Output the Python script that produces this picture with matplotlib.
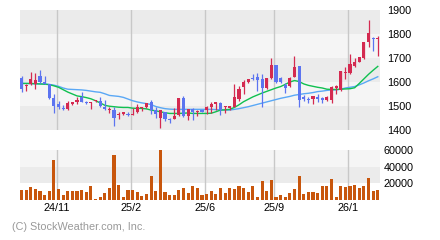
import numpy as np
from matplotlib import pyplot as plt

# weekly candles
opens = [1617, 1583, 1592, 1592, 1625, 1600, 1592, 1535, 1508, 1493,
         1488, 1510, 1515, 1539, 1515, 1511, 1520, 1521, 1497, 1483,
         1483, 1464, 1465, 1467, 1464, 1475, 1490, 1496, 1517, 1483,
         1451, 1476, 1444, 1446, 1462, 1533, 1460, 1487, 1474, 1482,
         1483, 1497, 1508, 1511, 1496, 1492, 1497, 1528, 1581, 1599,
         1617, 1622, 1612, 1574, 1615, 1671, 1615, 1587, 1585, 1622,
         1667, 1536, 1528, 1528, 1537, 1535, 1525, 1525, 1574, 1567,
         1636, 1636, 1668, 1685, 1699, 1768, 1782, 1778]
highs = [1625, 1593, 1643, 1637, 1650, 1625, 1592, 1550, 1521, 1504,
         1521, 1516, 1537, 1558, 1519, 1515, 1525, 1537, 1525, 1497,
         1497, 1475, 1475, 1474, 1490, 1508, 1497, 1514, 1525, 1497,
         1483, 1476, 1449, 1493, 1533, 1542, 1487, 1492, 1483, 1482,
         1500, 1517, 1517, 1517, 1500, 1500, 1593, 1585, 1608, 1614,
         1635, 1639, 1633, 1615, 1699, 1671, 1622, 1597, 1619, 1708,
         1667, 1546, 1539, 1542, 1550, 1539, 1542, 1583, 1587, 1646,
         1662, 1715, 1699, 1703, 1768, 1858, 1786, 1792]
lows = [1560, 1564, 1587, 1569, 1594, 1590, 1529, 1472, 1489, 1483,
        1483, 1504, 1508, 1515, 1510, 1489, 1518, 1497, 1483, 1469,
        1418, 1446, 1462, 1460, 1464, 1472, 1481, 1493, 1467, 1449,
        1410, 1439, 1431, 1444, 1458, 1456, 1442, 1442, 1460, 1474,
        1465, 1469, 1483, 1462, 1472, 1483, 1494, 1520, 1549, 1596,
        1608, 1562, 1497, 1569, 1612, 1594, 1594, 1553, 1581, 1619,
        1497, 1521, 1511, 1508, 1518, 1514, 1521, 1511, 1550, 1564,
        1614, 1633, 1661, 1682, 1696, 1744, 1731, 1710]
closes = [1572, 1586, 1612, 1608, 1600, 1590, 1532, 1500, 1494, 1488,
          1512, 1515, 1524, 1518, 1512, 1515, 1524, 1500, 1486, 1489,
          1451, 1468, 1475, 1464, 1468, 1497, 1494, 1511, 1483, 1467,
          1483, 1444, 1441, 1458, 1533, 1458, 1487, 1476, 1478, 1474,
          1496, 1508, 1517, 1483, 1500, 1500, 1539, 1572, 1601, 1612,
          1613, 1608, 1574, 1615, 1671, 1599, 1601, 1574, 1615, 1664,
          1525, 1528, 1525, 1542, 1528, 1525, 1539, 1578, 1585, 1646,
          1640, 1675, 1685, 1703, 1768, 1803, 1778, 1782]
volumes = [12000, 12000, 15600, 13200, 10800, 6000, 10800, 48000, 13200, 6000,
           10800, 10800, 10800, 12000, 9600, 16800, 1200, 3600, 8400, 14400,
           54000, 18000, 3600, 12000, 12000, 9600, 4800, 7200, 28800, 10800,
           60000, 9600, 6000, 6000, 12000, 14400, 8400, 16800, 14400, 6000,
           7200, 10800, 7200, 14400, 8400, 14400, 13200, 16800, 14400, 9600,
           16800, 3600, 22800, 10800, 24000, 3600, 6000, 3600, 8400, 13200,
           28800, 7200, 9600, 9600, 8400, 16800, 16800, 25200, 3600, 16800,
           15600, 16800, 18000, 14400, 16800, 26400, 10800, 12000]
ma_short = [1594, 1594, 1594, 1593, 1592, 1591, 1589, 1584, 1578, 1568,
            1558, 1550, 1542, 1539, 1535, 1530, 1522, 1513, 1503, 1499,
            1497, 1495, 1494, 1494, 1491, 1490, 1490, 1488, 1483, 1480,
            1476, 1472, 1469, 1469, 1469, 1470, 1471, 1469, 1469, 1469,
            1469, 1470, 1476, 1483, 1484, 1486, 1494, 1505, 1518, 1528,
            1538, 1546, 1554, 1561, 1568, 1575, 1581, 1590, 1600, 1606,
            1602, 1592, 1586, 1582, 1578, 1575, 1570, 1569, 1569, 1570,
            1571, 1572, 1576, 1594, 1613, 1632, 1649, 1665]
ma_long = [1594, 1594, 1593, 1592, 1592, 1591, 1590, 1587, 1582, 1575,
           1570, 1569, 1568, 1567, 1565, 1562, 1559, 1557, 1551, 1544,
           1542, 1540, 1536, 1529, 1522, 1517, 1513, 1510, 1506, 1498,
           1493, 1489, 1487, 1486, 1486, 1486, 1486, 1486, 1486, 1486,
           1486, 1486, 1485, 1484, 1483, 1483, 1486, 1489, 1493, 1497,
           1502, 1507, 1512, 1517, 1522, 1527, 1532, 1536, 1540, 1545,
           1548, 1551, 1553, 1556, 1560, 1562, 1565, 1567, 1567, 1570,
           1575, 1578, 1581, 1588, 1596, 1605, 1613, 1622]
price_ticks = [1400, 1500, 1600, 1700, 1800, 1900]
vol_ticks = [20000, 40000, 60000]
month_pos = [7.67, 23.67, 39.67, 54.67, 70.67]
month_labels = ['24/11', '25/2', '25/6', '25/9', '26/1']

UP = '#d42a50'
DOWN = '#5c74f0'
GRID = '#c8c8c8'

plt.rcParams['font.family'] = ['Liberation Sans', 'DejaVu Sans']

fig = plt.figure(figsize=(4.4, 2.4), dpi=100)
ax = fig.add_axes([20 / 440, 110 / 240, 360 / 440, 120 / 240])
axv = fig.add_axes([20 / 440, 40 / 240, 360 / 440, 50 / 240])

x = np.arange(len(opens))
o = np.array(opens)
c = np.array(closes)
colors = [UP if cc >= oo else DOWN for oo, cc in zip(o, c)]

# background bands
for k, lo in enumerate(price_ticks[:-1]):
    ax.axhspan(lo, lo + 100, color='#ebebeb' if k % 2 == 0 else '#f5f5f5', lw=0, zorder=0)
axv.axhspan(20000, 40000, color='#ebebeb', lw=0, zorder=0)
axv.axhspan(40000, 60000, color='#f5f5f5', lw=0, zorder=0)

for a in (ax, axv):
    for p in month_pos:
        a.axvline(p, color=GRID, lw=1.0, zorder=1)

# moving averages
ax.plot(x, ma_long, color='#5aa8f5', lw=1.0, zorder=2)
ax.plot(x, ma_short, color='#10c050', lw=1.0, zorder=2)

# candles
ax.vlines(x, lows, highs, colors=colors, lw=0.9, zorder=3)
body = np.maximum(np.abs(c - o), 3)
ax.bar(x, body, bottom=np.minimum(o, c), width=0.68, color=colors, lw=0, zorder=4)

axv.bar(x, volumes, width=0.68, color='#c8560c', lw=0, zorder=3)

ax.set_xlim(-0.33, 77.48)
axv.set_xlim(-0.33, 77.48)
ax.set_ylim(1400, 1900)
axv.set_ylim(0, 60000)

for a in (ax, axv):
    for s in a.spines.values():
        s.set_visible(False)
    a.yaxis.tick_right()
    a.tick_params(length=0, labelsize=7.8, colors='black')

ax.set_yticks(price_ticks)
ax.set_xticks([])
ax.tick_params(axis='y', pad=5)
axv.set_yticks(vol_ticks)
axv.tick_params(axis='y', pad=2.5)
axv.set_xticks(month_pos)
axv.set_xticklabels(month_labels)
axv.tick_params(axis='x', pad=2)

fig.text(12 / 440, 1 - 227 / 240, '(C) StockWeather.com, Inc.', color='#999999',
         fontsize=7.8, va='center', ha='left')

fig.savefig('out.png', dpi=100)
